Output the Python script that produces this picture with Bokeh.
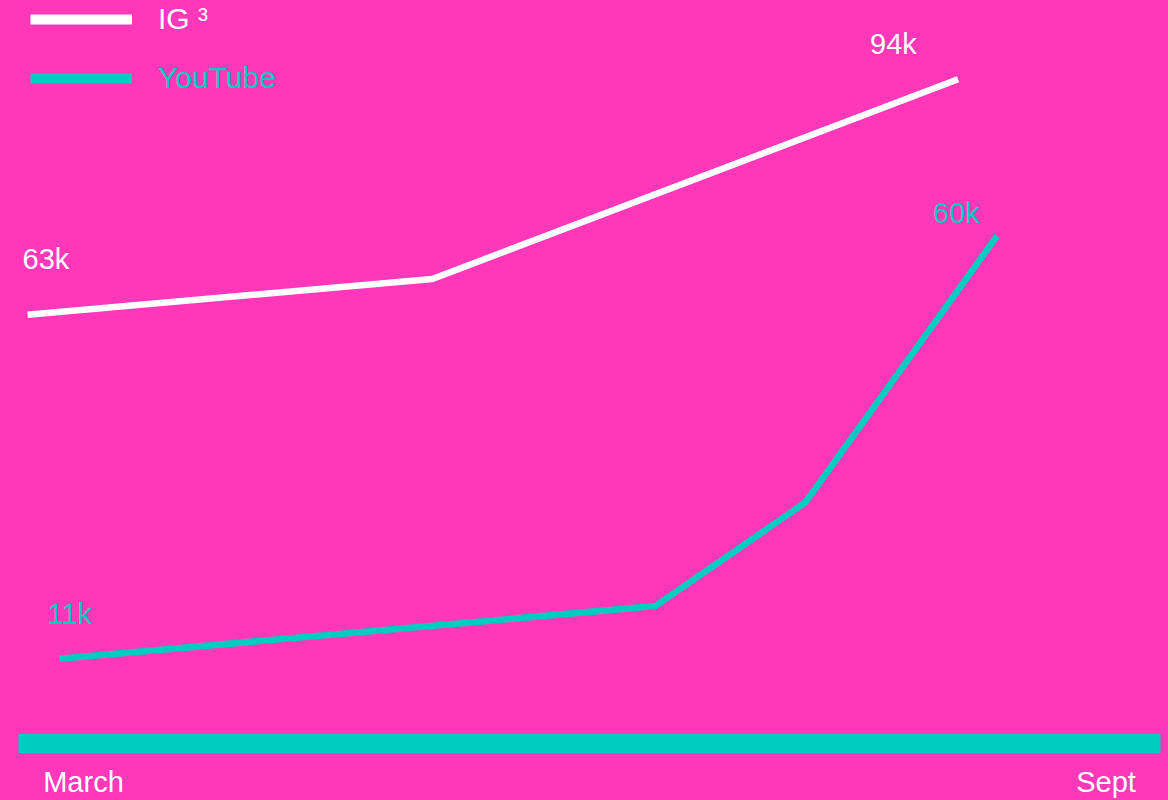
from bokeh.plotting import figure
from bokeh.models import Range1d, FixedTicker, Label, Legend, LegendItem
from bokeh.embed import file_html
from bokeh.resources import INLINE

# ---- data (x in months: 3 = March, 9 = September; y in thousands) ----
months = [3, 9]
month_labels = ["March", "Sept"]

ig_name = "IG \u00b3"
ig_x = [2.672, 5.047, 8.132]
ig_y = [63, 67.7, 94]

yt_name = "YouTube"
yt_x = [2.859, 6.355, 7.235, 8.361]
yt_y = [11, 17.1, 29.1, 60]

PINK = "#FF38BA"
TEAL = "#00CCC0"
WHITE = "#FFFFFF"
FONT = "Liberation Sans"
NAN = float("nan")

p = figure(width=1168, height=800, output_backend="svg", toolbar_location=None,
           x_range=Range1d(2.6186, 9.3198), y_range=Range1d(6.52, 104.38),
           y_axis_location=None, min_border_left=18, min_border_right=8,
           min_border_top=0, min_border_bottom=55)
p.extra_y_ranges = {"yt": Range1d(1.18, 87.27)}
p.background_fill_color = PINK
p.background_fill_alpha = 0
p.border_fill_color = PINK
p.border_fill_alpha = 0
p.outline_line_color = None
p.grid.visible = False

ig_r = p.line(ig_x, ig_y, line_color=WHITE, line_width=6.5)
yt_r = p.line(yt_x, yt_y, line_color=TEAL, line_width=6.5, y_range_name="yt")

# value labels at first / last points
def value_label(x, y, v, color, dx, dy, rng="default"):
    p.add_layout(Label(x=x, y=y, text=f"{v:.0f}k", x_offset=dx, y_offset=dy,
                       text_color=color, text_font=FONT, text_font_size="29px",
                       text_baseline="alphabetic", text_align="left",
                       y_range_name=rng))

value_label(ig_x[0], ig_y[0], ig_y[0], WHITE, -5, 56)
value_label(ig_x[-1], ig_y[-1], ig_y[-1], WHITE, -88, 35)
value_label(yt_x[0], yt_y[0], yt_y[0], TEAL, -12, 45, "yt")
value_label(yt_x[-1], yt_y[-1], yt_y[-1], TEAL, -64, 23, "yt")

# x axis drawn as a thick teal bar with month labels
ax = p.xaxis[0]
ax.ticker = FixedTicker(ticks=months)
ax.major_label_overrides = {m: l for m, l in zip(months, month_labels)}
ax.axis_line_color = TEAL
ax.axis_line_width = 19
ax.major_tick_line_color = None
ax.minor_tick_line_color = None
ax.major_tick_out = 0
ax.major_tick_in = 0
ax.major_label_standoff = 22
ax.major_label_text_color = WHITE
ax.major_label_text_font = FONT
ax.major_label_text_font_size = "29px"

# legends (thicker lines for the legend glyphs)
ig_leg = p.line([NAN], [NAN], line_color=WHITE, line_width=10)
yt_leg = p.line([NAN], [NAN], line_color=TEAL, line_width=10)

def make_legend(r, name, color, loc, gh):
    lg = Legend(items=[LegendItem(label=name, renderers=[r])], location=loc,
                glyph_width=102, glyph_height=gh,
                label_standoff=26, padding=0, margin=0, spacing=0,
                border_line_color=None, background_fill_alpha=0,
                label_text_color=color, label_text_font=FONT,
                label_text_font_size="30px")
    p.add_layout(lg, "center")

make_legend(ig_leg, ig_name, WHITE, (12, 707), 22)
make_legend(yt_leg, yt_name, TEAL, (12, 646), 38)

html = file_html(p, INLINE)
style = "<style>html, body { background: %s; }</style>" % PINK
html = html.replace("</head>", style + "</head>", 1)
open("out.html", "w").write(html)
